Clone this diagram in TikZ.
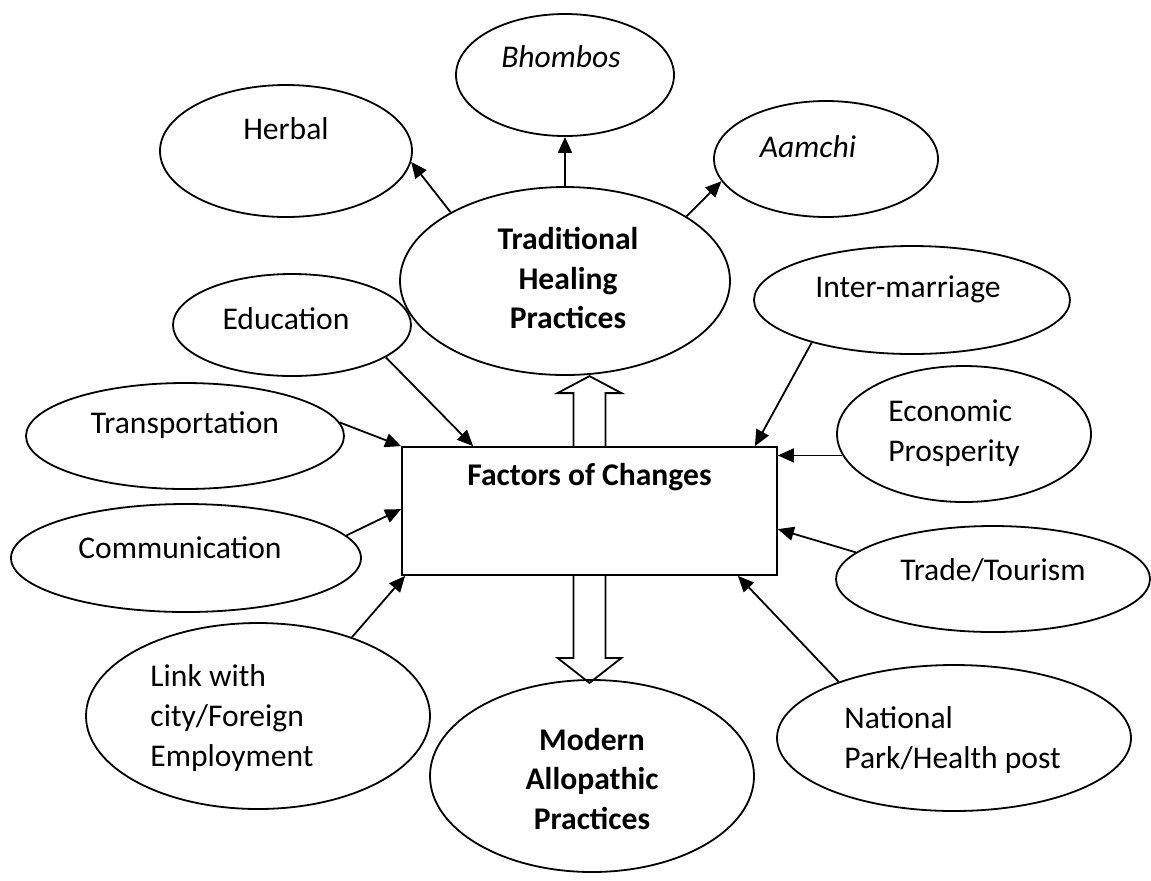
\documentclass[tikz,border=0pt]{standalone}
\usepackage{fontspec}
\setmainfont{Carlito}
\usepackage{tikz}
\usetikzlibrary{
  shapes.geometric,%
  arrows.meta,%
  calc,%
  positioning
}
\tikzset{>={Triangle[length=8pt,width=7pt]}}
\tikzset{font=\fontsize{15.8}{19.8}\selectfont}
\tikzset{oval/.style={ellipse, draw, line width=0.9pt, inner sep=0pt},
  lbl/.style={inner sep=0pt, align=center},
  lbll/.style={inner sep=0pt, align=left, anchor=west},
  arr/.style={->, line width=0.9pt},
  block/.style={draw, line width=0.9pt, line join=miter}}

\begin{document}
\begin{tikzpicture}[x=0.5pt, y=-0.5pt]
  \useasboundingbox (0,0) rectangle (1151,880);
  % centre box
  \node[draw, line width=0.9pt, minimum width=187.5pt, minimum height=64pt] (box) at (589.5,511) {};
  \node[lbl, font=\fontsize{15.8}{19.8}\selectfont\bfseries] (boxt) at ([yshift=-15.5pt]box.north) {Factors of Changes};
  % healing practices
  \node[oval, minimum width=165pt, minimum height=94pt] (thp) at (565,281) {};
  \node[oval, minimum width=126pt, minimum height=66pt] (herbal) at (286,151) {};
  \node[oval, minimum width=109pt, minimum height=61pt] (bhombos) at (565,75) {};
  \node[oval, minimum width=112pt, minimum height=58pt] (aamchi) at (826,159) {};
  \node[oval, minimum width=162pt, minimum height=96pt] (modern) at (592,776) {};
  % factors
  \node[oval, minimum width=119pt, minimum height=51pt] (edu) at (292,325) {};
  \node[oval, minimum width=158pt, minimum height=54pt] (inter) at (912,300) {};
  \node[oval, minimum width=159pt, minimum height=53pt] (trans) at (185,436) {};
  \node[oval, minimum width=175pt, minimum height=54pt] (comm) at (186,558) {};
  \node[oval, minimum width=127pt, minimum height=68pt] (econ) at (964,434) {};
  \node[oval, minimum width=157pt, minimum height=53pt] (trade) at (993,579) {};
  \node[oval, minimum width=172pt, minimum height=93pt] (city) at (258,716) {};
  \node[oval, minimum width=177pt, minimum height=73pt] (np) at (954,738) {};
  % texts
  \node[lbl, font=\fontsize{15.8}{19.8}\selectfont\bfseries] (thpt) at ([xshift=1.5pt,yshift=1.5pt]thp) {Traditional\\Healing\\Practices};
  \node[lbl] (herbalt) at ([yshift=11pt]herbal) {Herbal};
  \node[lbl] (bhombost) at ([xshift=-2pt,yshift=9pt]bhombos) {\itshape Bhombos};
  \node[lbl] (aamchit) at ([xshift=-9pt,yshift=6pt]aamchi) {\itshape Aamchi};
  \node[lbl, font=\fontsize{15.8}{19.8}\selectfont\bfseries] (modernt) at ([yshift=-1.5pt]modern) {Modern\\Allopathic\\Practices};
  \node[lbl] (edut) at ([xshift=-3pt,yshift=3pt]edu) {Education};
  \node[lbl] (intert) at ([xshift=-2pt,yshift=5.5pt]inter) {Inter-marriage};
  \node[lbl] (transt) at ([yshift=5.5pt]trans) {Transportation};
  \node[lbl] (commt) at ([xshift=-3pt,yshift=5pt]comm) {Communication};
  \node[lbll] (econt) at ([xshift=-38pt,yshift=0.5pt]econ) {Economic\\Prosperity};
  \node[lbl] (tradet) at ([yshift=4.5pt]trade) {Trade/Tourism};
  \node[lbll] (cityt) at ([xshift=-54pt,yshift=-1pt]city) {Link with\\city/Foreign\\Employment};
  \node[lbll] (npt) at ([xshift=-55pt,yshift=-1pt]np) {National\\Park/Health post};
  % arrows out of traditional healing
  \draw[arr] (thp.149) -- (herbal.-5);
  \draw[arr] (thp) -- (bhombos);
  \draw[arr] (thp.28) -- (aamchi.192);
  % arrows into the box
  \draw[arr] (edu.-19) -- ([xshift=36pt]box.north west);
  \draw[arr] (trans.5) -- (box.north west);
  \draw[arr] (comm.8) -- ([yshift=-31.5pt]box.north west);
  \draw[arr] (city.40) -- ([xshift=2pt]box.south west);
  \draw[arr] (inter.203) -- ([xshift=-11.5pt]box.north east);
  \draw[arr] (econ.190) -- (econ.190 -| box.east);
  \draw[arr] (trade.169) -- ([yshift=-41.5pt]box.north east);
  \draw[arr] (np.154) -- ([xshift=-20pt]box.south east);
  % block arrows
  \draw[block] ([xshift=-8pt]box.north) -- ++(0,-53) -- ++(-16,0) -- ++(32,-17)
    -- ++(32,17) -- ++(-16,0) -- ++(0,53);
  \draw[block] ([xshift=-8pt]box.south) -- ++(0,82) -- ++(-16,0) -- ++(32,25)
    -- ++(32,-25) -- ++(-16,0) -- ++(0,-82);
\end{tikzpicture}
\end{document}
